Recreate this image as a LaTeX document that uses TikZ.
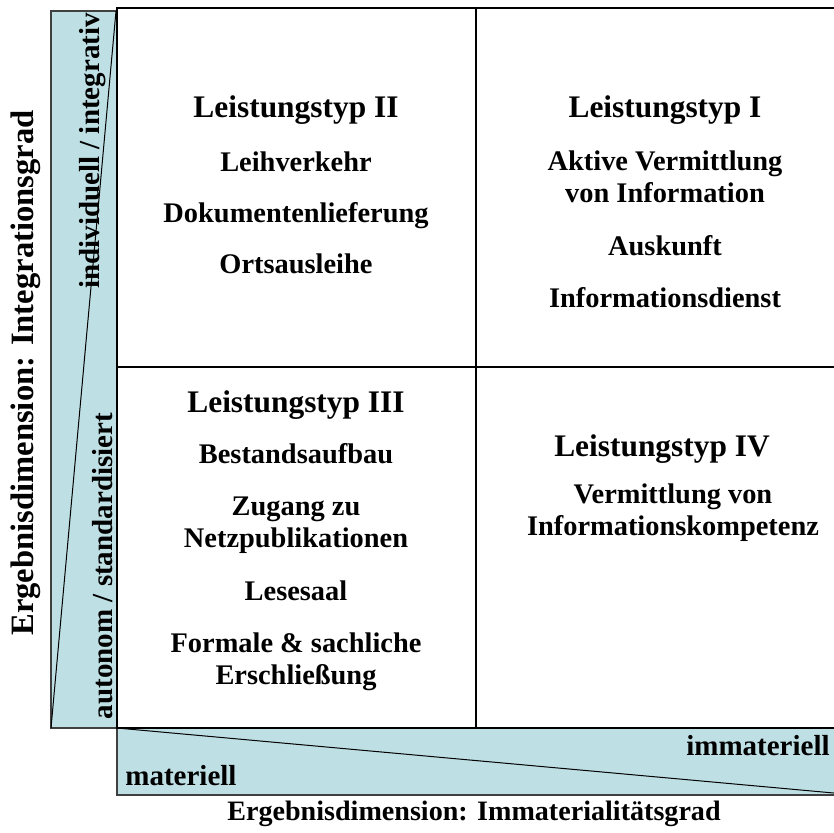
\documentclass[tikz,border=0pt]{standalone}
\usepackage{fontspec}
\setmainfont{Liberation Serif}
\definecolor{balken}{RGB}{190,223,228}

\tikzset{
	titel/.style={font=\fontsize{15.7}{18}\selectfont\bfseries, anchor=base, inner sep=0pt},
	eintrag/.style={font=\fontsize{14.2}{16}\selectfont\bfseries, anchor=base, inner sep=0pt},
	achse/.style={font=\fontsize{14.5}{17}\selectfont\bfseries, inner sep=0pt},
}

\begin{document}
\begin{tikzpicture}[x=0.5pt,y=-0.5pt]
	\useasboundingbox (0,0) rectangle (834,832);
	
	% Balken links und unten
	\filldraw[fill=balken, draw=black!75, line width=0.8pt] (51,11) rectangle (117,728);
	\filldraw[fill=balken, draw=black!75, line width=0.8pt] (117,728) rectangle (856,795);
	\draw[line width=0.5pt] (51,728) -- (116,11);
	\draw[line width=0.5pt] (117,728) -- (856,795);
	
	% Raster
	\draw[line width=1pt] (117,8) rectangle (856,728);
	\draw[line width=1pt] (476,8) -- (476,728);
	\draw[line width=1pt] (117,367) -- (856,367);
	
	% Leistungstyp II
	\node[titel] (t2) at (296,117) {Leistungstyp II};
	\node[eintrag] (t2a) at (296,171) {Leihverkehr};
	\node[eintrag] (t2b) at (296,222) {Dokumentenlieferung};
	\node[eintrag] (t2c) at (296,273) {Ortsausleihe};
	
	% Leistungstyp I
	\node[titel] (t1) at (665,117) {Leistungstyp I};
	\node[eintrag] (t1a) at (665,170) {Aktive Vermittlung};
	\node[eintrag] (t1b) at (665,202) {von Information};
	\node[eintrag] (t1c) at (665,255) {Auskunft};
	\node[eintrag] (t1d) at (665,307) {Informationsdienst};
	
	% Leistungstyp III
	\node[titel] (t3) at (296,412) {Leistungstyp III};
	\node[eintrag] (t3a) at (296,463) {Bestandsaufbau};
	\node[eintrag] (t3b) at (296,515) {Zugang zu};
	\node[eintrag] (t3c) at (296,547) {Netzpublikationen};
	\node[eintrag] (t3d) at (296,600) {Lesesaal};
	\node[eintrag] (t3e) at (296,652) {Formale \& sachliche};
	\node[eintrag] (t3f) at (296,684) {Erschließung};
	
	% Leistungstyp IV
	\node[titel] (t4) at (662,456) {Leistungstyp IV};
	\node[eintrag] (t4a) at (673,503) {Vermittlung von};
	\node[eintrag] (t4b) at (673,535) {Informationskompetenz};
	
	% Achsen
	\node[achse, font=\fontsize{16.3}{19}\selectfont\bfseries, rotate=90] (yachse) at (26,373) {Ergebnisdimension: Integrationsgrad};
	\node[achse, rotate=90, anchor=base] (yoben) at (99,151) {individuell / integrativ};
	\node[achse, rotate=90, anchor=base] (yunten) at (112,566) {autonom / standardisiert};
	\node[achse, font=\fontsize{14.05}{17}\selectfont\bfseries] (xachse) at (474,814) {Ergebnisdimension: Immaterialitätsgrad};
	\node[achse, anchor=base west] (xlinks) at (125,785) {materiell};
	\node[achse, anchor=base east] (xrechts) at (830,755) {immateriell};
\end{tikzpicture}
\end{document}
